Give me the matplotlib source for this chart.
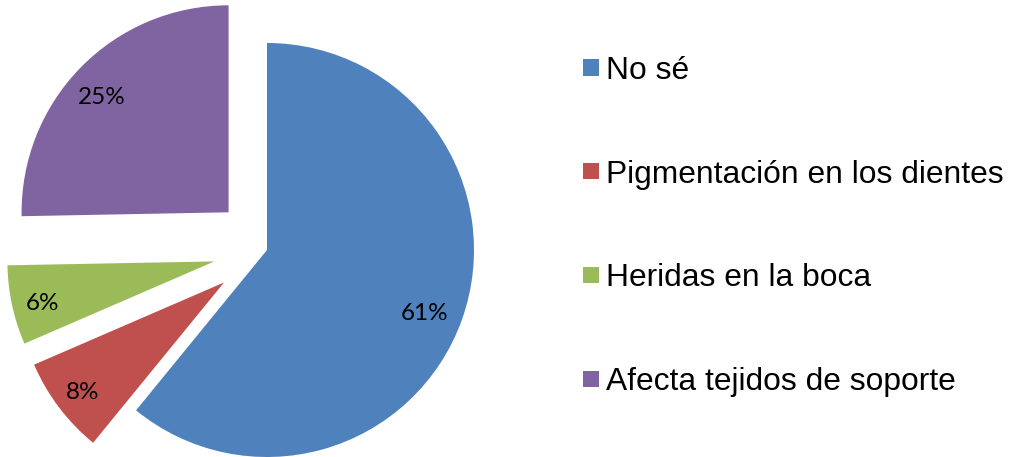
import matplotlib
matplotlib.use("Agg")
import matplotlib.pyplot as plt
from matplotlib.patches import Rectangle
from matplotlib.transforms import offset_copy

# ---------------- DATA ----------------
categories = ["No sé", "Pigmentación en los dientes", "Heridas en la boca",
              "Afecta tejidos de soporte"]
values = [60.9, 7.6, 6.2, 25.3]
colors = ["#4F81BD", "#C0504D", "#9BBB59", "#8064A2"]
explode = [0, 0.26, 0.26, 0.26]

# ---------------- FIGURE ----------------
W, H = 1011, 457
fig = plt.figure(figsize=(W / 100, H / 100), dpi=100)
fig.patch.set_facecolor("white")

# pie centre at (267, 250) px from top-left, radius 207 px
cx, cy, r = 267, 250, 207
ax = fig.add_axes([0, 0, 1, 1])
wedges, texts, autotexts = ax.pie(
    values, colors=colors, explode=explode, startangle=90, counterclock=False,
    autopct="%1.0f%%", pctdistance=0.83,
    textprops={"fontsize": 17.5, "family": ["Lato", "DejaVu Sans"], "color": "black"},
)
# excel puts the labels a little lower/left than matplotlib does
for t in autotexts:
    t.set_transform(offset_copy(t.get_transform(), fig=fig, x=-4, y=-6, units="dots"))

ax.set_xlim(-cx / r, (W - cx) / r)
ax.set_ylim(-(H - cy) / r, cy / r)
ax.axis("off")

# ---------------- LEGEND ----------------
y0, step = 67.5, 103.7
for i, (label, color) in enumerate(zip(categories, colors)):
    yc = y0 + step * i
    fig.patches.append(Rectangle((583 / W, 1 - (yc + 8) / H), 16 / W, 16 / H,
                                 transform=fig.transFigure, facecolor=color,
                                 edgecolor="none"))
    fig.text(606 / W, 1 - (yc + 11.4) / H, label, fontsize=22.9,
             family=["Liberation Sans", "DejaVu Sans"], va="baseline", ha="left")

fig.savefig("out.png", dpi=100)
